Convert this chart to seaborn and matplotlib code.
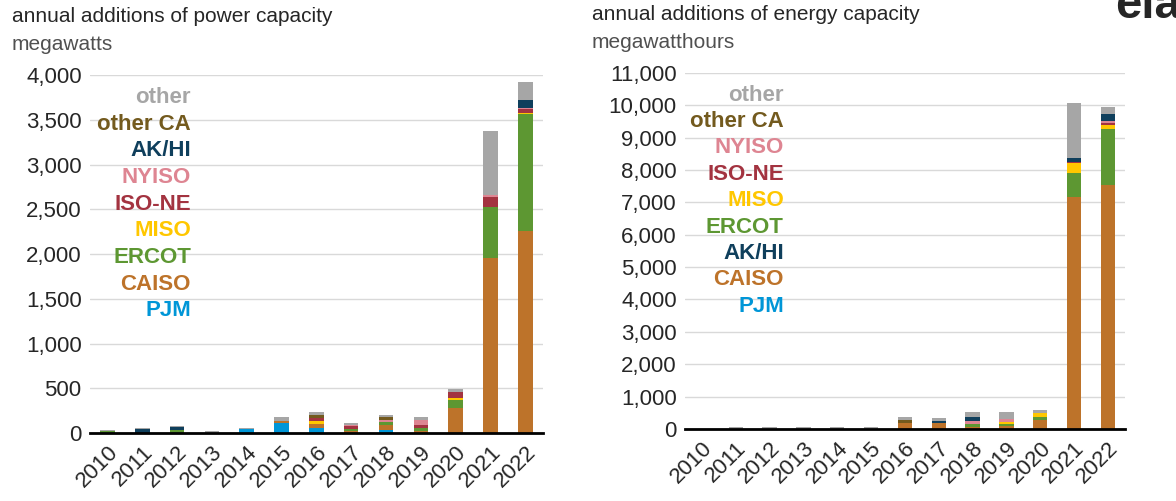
import pandas as pd
import seaborn as sns
import numpy as np
import matplotlib.pyplot as plt

years = list(range(2010, 2023))

# annual additions of power capacity (MW)
pw_pjm      = [0, 0, 0, 0, 40, 112, 56, 0, 37, 0, 0, 0, 0]
pw_caiso    = [0, 0, 0, 0, 0, 26, 45, 20, 56, 20, 283, 1950, 2260]
pw_ercot    = [25, 0, 35, 0, 0, 0, 0, 30, 26, 35, 86, 570, 1300]
pw_miso     = [0, 0, 0, 0, 0, 0, 37, 0, 0, 0, 26, 0, 20]
pw_isone    = [0, 0, 0, 0, 0, 0, 30, 25, 0, 30, 60, 120, 40]
pw_nyiso    = [0, 0, 0, 0, 0, 0, 0, 15, 30, 63, 0, 20, 15]
pw_akhi     = [0, 40, 30, 0, 0, 0, 0, 0, 0, 0, 0, 0, 90]
pw_otherca  = [0, 0, 0, 0, 0, 0, 37, 0, 30, 0, 0, 0, 0]
pw_other    = [5, 15, 15, 20, 15, 37, 26, 20, 26, 26, 33, 715, 200]

# annual additions of energy capacity (MWh)
en_pjm      = [0, 0, 0, 0, 0, 0, 0, 0, 0, 0, 0, 0, 0]
en_caiso    = [0, 0, 0, 0, 0, 0, 195, 175, 72, 93, 278, 7150, 7530]
en_ercot    = [0, 0, 0, 0, 0, 0, 0, 0, 72, 62, 82, 760, 1730]
en_miso     = [0, 0, 0, 0, 0, 0, 0, 0, 0, 72, 144, 290, 124]
en_isone    = [0, 0, 0, 0, 0, 0, 0, 0, 0, 0, 0, 30, 70]
en_nyiso    = [0, 0, 0, 0, 0, 0, 0, 0, 103, 82, 0, 30, 60]
en_akhi     = [0, 0, 0, 0, 0, 0, 0, 82, 113, 0, 0, 103, 226]
en_otherca  = [0, 0, 0, 0, 0, 0, 82, 0, 0, 0, 0, 0, 0]
en_other    = [0, 70, 70, 70, 70, 70, 82, 72, 154, 206, 82, 1698, 206]

regions = ['PJM', 'CAISO', 'ERCOT', 'MISO', 'ISO-NE', 'NYISO', 'AK/HI', 'other CA', 'other']
colors = ['#0096D7', '#BD732A', '#5D9732', '#FFC700', '#A33340', '#DE8592',
          '#0F3F5C', '#735A1E', '#A6A6A6']
palette = dict(zip(regions, colors))

power = dict(zip(regions, [pw_pjm, pw_caiso, pw_ercot, pw_miso, pw_isone,
                           pw_nyiso, pw_akhi, pw_otherca, pw_other]))
energy = dict(zip(regions, [en_pjm, en_caiso, en_ercot, en_miso, en_isone,
                            en_nyiso, en_akhi, en_otherca, en_other]))

left_labels = ['other', 'other CA', 'AK/HI', 'NYISO', 'ISO-NE', 'MISO', 'ERCOT', 'CAISO', 'PJM']
right_labels = ['other', 'other CA', 'NYISO', 'ISO-NE', 'MISO', 'ERCOT', 'AK/HI', 'CAISO', 'PJM']


def long_form(d):
    rows = []
    for r in regions:
        for y, v in zip(years, d[r]):
            rows.append({'year': y, 'region': r, 'value': v})
    return pd.DataFrame(rows)


sns.set_style('white')
plt.rcParams['font.family'] = ['Liberation Sans', 'DejaVu Sans']
txt = '#262626'

fig = plt.figure(figsize=(11.76, 5.01), dpi=100)
ax1 = fig.add_axes([0.0765, 0.1357, 0.385, 0.7146])
ax2 = fig.add_axes([0.5825, 0.1437, 0.374, 0.711])


def draw(ax, d, ymax, step, labels, label_top, label_gap, label_x):
    df = long_form(d)
    sns.histplot(data=df, x='year', hue='region', weights='value', multiple='stack',
                 discrete=True, shrink=0.42, hue_order=regions[::-1], palette=palette,
                 alpha=1, linewidth=0, legend=False, ax=ax)
    ax.set_xlim(2009.5, 2022.5)
    ax.set_ylim(0, ymax)
    ax.set_yticks(np.arange(0, ymax + 1, step))
    ax.set_yticklabels([f'{int(v):,}' for v in np.arange(0, ymax + 1, step)],
                       fontsize=16, color=txt)
    ax.set_xticks(years)
    ax.set_xticklabels([str(y) for y in years], rotation=45, ha='right',
                       rotation_mode='anchor', fontsize=16, color=txt)
    ax.set_xlabel('')
    ax.set_ylabel('')
    ax.grid(axis='y', color='#d9d9d9', linewidth=1)
    ax.set_axisbelow(True)
    for s in ['top', 'right', 'left']:
        ax.spines[s].set_visible(False)
    ax.spines['bottom'].set_color('black')
    ax.spines['bottom'].set_linewidth(2)
    ax.tick_params(axis='both', length=0, pad=6)
    for i, lab in enumerate(labels):
        ax.text(label_x, label_top - i * label_gap, lab, color=palette[lab],
                fontsize=16, fontweight='bold', ha='right', va='center')


draw(ax1, power, 4000, 500, left_labels, 3750, 298, 2012.4)
draw(ax2, energy, 11000, 1000, right_labels, 10310, 815, 2012.42)

fig.text(12 / 1176, 1 - 17 / 501, 'annual additions of power capacity',
         fontsize=15, color=txt, va='center', ha='left')
fig.text(12 / 1176, 1 - 44 / 501, 'megawatts', fontsize=15, color='#505050',
         va='center', ha='left')
fig.text(592 / 1176, 1 - 15 / 501, 'annual additions of energy capacity',
         fontsize=15, color=txt, va='center', ha='left')
fig.text(592 / 1176, 1 - 42 / 501, 'megawatthours', fontsize=15, color='#505050',
         va='center', ha='left')
fig.text(1115 / 1176, 1 - 18 / 501, 'eia', fontsize=34, fontweight='bold',
         color=txt, va='baseline', ha='left')

fig.savefig('out.png', dpi=100)
